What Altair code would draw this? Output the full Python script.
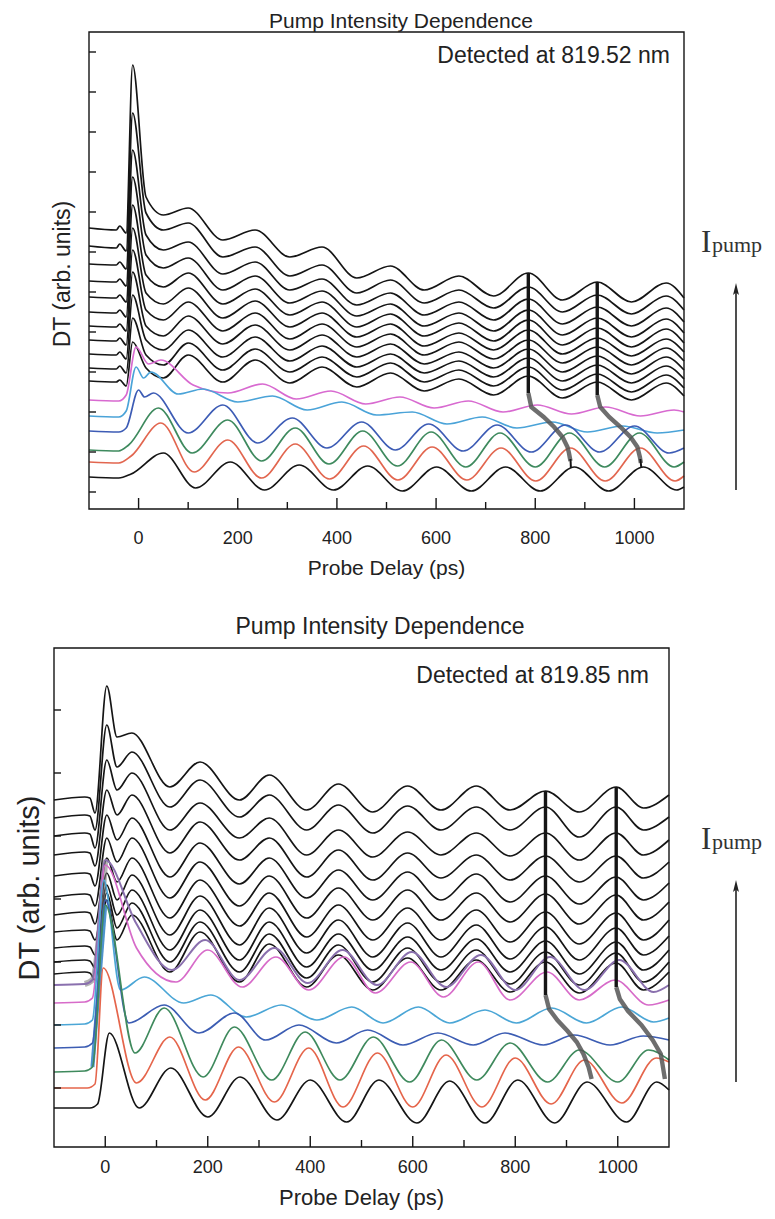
import altair as alt
import pandas as pd

# ---------------- data: top panel (Detected at 819.52 nm) ----------------
TOP_BLACK_X = [-100, -45, -38, -25, -12, 15, 50, 100, 170, 235, 305, 370, 440, 508,
               576, 646, 716, 786, 855, 925, 994, 1064, 1100]
TOP_BLACK = [
    [281, 279, 283, 276, 444, 312, 294, 301, 269, 279, 252, 262, 231, 243, 219, 233, 213, 236, 209, 227, 207, 226, 211],
    [263, 261, 265, 258, 396, 296, 279, 286, 252, 262, 233, 244, 216, 229, 206, 219, 201, 222, 197, 214, 195, 213, 199],
    [245, 244, 247, 240, 359, 274, 259, 267, 235, 247, 219, 230, 204, 216, 194, 207, 189, 210, 185, 202, 183, 201, 187],
    [228, 227, 230, 223, 332, 254, 241, 251, 219, 233, 206, 218, 193, 205, 183, 196, 178, 199, 174, 191, 172, 190, 176],
    [212, 211, 214, 207, 304, 234, 222, 236, 205, 220, 194, 207, 182, 195, 173, 186, 168, 189, 164, 181, 162, 180, 166],
    [197, 196, 199, 192, 281, 216, 205, 221, 191, 208, 182, 196, 172, 185, 163, 176, 159, 179, 155, 171, 153, 170, 157],
    [183, 182, 185, 178, 259, 199, 189, 207, 178, 196, 170, 185, 162, 175, 154, 167, 150, 169, 146, 162, 144, 161, 148],
    [169, 168, 171, 164, 237, 183, 173, 193, 165, 184, 159, 174, 152, 165, 145, 157, 141, 160, 137, 153, 135, 152, 139],
    [155, 154, 157, 150, 214, 169, 159, 179, 152, 172, 148, 163, 142, 155, 136, 148, 132, 151, 128, 144, 126, 143, 130],
    [141, 140, 143, 136, 191, 154, 144, 166, 139, 160, 137, 152, 132, 146, 127, 139, 123, 142, 119, 135, 117, 134, 121],
    [128, 127, 129, 123, 167, 141, 131, 154, 127, 149, 126, 142, 122, 136, 118, 130, 114, 133, 111, 127, 109, 126, 113],
]
TOP_PINK_X = [-100, -40, -25, -5, 20, 45, 110, 180, 250, 318, 388, 458, 527, 596, 665, 735, 804, 873, 942, 1012, 1080, 1100]
TOP_PINK_Y = [109, 108, 114, 162, 145, 149, 124, 116, 125, 110, 118, 105, 112, 101, 108, 97, 104, 95, 102, 93, 99, 97]
TOP_LBLUE_X = [-100, -40, -25, -5, 10, 25, 80, 130, 200, 270, 340, 410, 480, 552, 622, 693, 763, 834, 905, 976, 1046, 1100]
TOP_LBLUE_Y = [93, 92, 98, 142, 131, 137, 115, 120, 107, 113, 99, 107, 94, 97, 85, 92, 81, 87, 77, 83, 76, 79]
TOP_BLUE_X = [-100, -40, -25, 0, 12, 30, 100, 170, 240, 310, 380, 450, 518, 585, 655, 723, 792, 861, 930, 1000, 1070, 1100]
TOP_BLUE_Y = [78, 77, 81, 119, 112, 116, 76, 104, 66, 91, 61, 87, 59, 85, 58, 84, 57, 84, 57, 83, 56, 61]
TOP_GREEN_X = [-100, -40, -20, 40, 108, 180, 248, 316, 384, 452, 522, 590, 660, 729, 800, 869, 940, 1010, 1080, 1100]
TOP_GREEN_Y = [59, 58, 64, 101, 56, 89, 48, 81, 45, 78, 43, 77, 42, 76, 42, 76, 42, 76, 42, 47]
TOP_RED_X = [-100, -40, -15, 45, 112, 180, 248, 316, 385, 454, 523, 592, 662, 731, 801, 871, 941, 1012, 1082, 1100]
TOP_RED_Y = [47, 46, 53, 86, 37, 69, 31, 65, 30, 63, 29, 62, 29, 61, 28, 61, 28, 61, 28, 33]
TOP_LOW_X = [-100, -40, -15, 50, 115, 185, 254, 324, 393, 462, 532, 601, 671, 740, 810, 879, 948, 1018, 1085, 1100]
TOP_LOW_Y = [32, 31, 35, 56, 21, 47, 19, 44, 19, 43, 18, 42, 18, 42, 18, 42, 18, 42, 19, 22]
# phase-tracking guide lines (x, y)
TOP_ECHO1_V = [(786, 236), (786, 116)]
TOP_ECHO1_C = [(786, 116), (792, 102), (817, 92), (838, 82), (855, 72), (865, 62), (868, 56), (871, 48)]
TOP_ECHO1_T = [(871, 50), (872, 41)]
TOP_ECHO2_V = [(925, 227), (925, 114)]
TOP_ECHO2_C = [(925, 114), (931, 102), (949, 92), (972, 82), (992, 72), (1006, 62), (1011, 52), (1013, 46)]
TOP_ECHO2_T = [(1012, 50), (1014, 41)]
TOP_YTICKS = [457, 417, 377, 337, 297, 257, 217, 177, 137, 97, 57, 17]

# ---------------- data: bottom panel (Detected at 819.85 nm) ----------------
BOT_BLACK_X = [-100, -40, -30, -20, 3, 23, 52, 126, 185, 262, 320, 393, 455, 522,
               590, 655, 724, 790, 859, 925, 997, 1050, 1100]
BOT_BLACK = [
    [347, 350, 349, 334, 461, 410, 414, 360, 385, 347, 372, 337, 363, 335, 361, 337, 361, 337, 356, 335, 360, 339, 352],
    [329, 332, 331, 317, 422, 380, 395, 340, 367, 330, 352, 317, 342, 314, 341, 317, 340, 317, 340, 310, 340, 317, 330],
    [311, 314, 313, 299, 387, 357, 374, 317, 344, 309, 329, 292, 317, 290, 315, 292, 314, 291, 314, 287, 314, 292, 307],
    [292, 295, 294, 281, 357, 332, 352, 294, 325, 287, 309, 270, 297, 267, 294, 269, 292, 267, 291, 265, 291, 269, 285],
    [271, 274, 273, 261, 332, 307, 329, 270, 304, 263, 289, 249, 277, 247, 275, 247, 273, 245, 271, 243, 270, 247, 264],
    [250, 253, 252, 241, 309, 285, 309, 249, 285, 241, 271, 229, 259, 227, 257, 227, 254, 225, 253, 223, 252, 227, 245],
    [232, 235, 234, 223, 289, 265, 289, 229, 267, 221, 254, 210, 242, 207, 239, 207, 237, 205, 235, 203, 234, 207, 227],
    [215, 217, 216, 207, 274, 247, 272, 212, 251, 202, 239, 194, 227, 190, 224, 190, 222, 188, 220, 187, 219, 192, 211],
    [199, 201, 200, 192, 262, 232, 257, 197, 237, 187, 225, 180, 213, 177, 210, 177, 208, 175, 206, 173, 205, 177, 197],
    [185, 187, 186, 179, 254, 219, 244, 185, 225, 175, 213, 169, 202, 165, 199, 165, 197, 163, 195, 162, 194, 165, 185],
    [173, 175, 174, 167, 247, 207, 232, 175, 215, 165, 203, 160, 192, 157, 189, 157, 187, 155, 185, 154, 184, 157, 175],
]
BOT_VIOLET_X = [-100, -40, -25, 0, 60, 130, 195, 262, 330, 395, 463, 530, 598, 665, 733, 800, 868, 935, 1003, 1070, 1100]
BOT_VIOLET_Y = [162, 163, 167, 287, 224, 177, 207, 167, 199, 164, 197, 162, 195, 160, 192, 157, 190, 157, 187, 155, 162]
BOT_PINK_X = [-100, -40, -25, 0, 61, 138, 200, 267, 333, 397, 466, 527, 596, 660, 728, 790, 862, 925, 995, 1060, 1100]
BOT_PINK_Y = [144, 145, 149, 282, 199, 165, 197, 160, 190, 157, 190, 154, 185, 150, 185, 147, 175, 147, 167, 142, 147]
BOT_LBLUE_X = [-100, -40, -25, -3, 30, 76, 153, 206, 275, 344, 413, 481, 542, 611, 672, 741, 802, 871, 939, 1008, 1070, 1100]
BOT_LBLUE_Y = [122, 123, 127, 267, 157, 170, 144, 152, 130, 142, 127, 140, 124, 140, 124, 137, 124, 139, 124, 140, 125, 129]
BOT_BLUE_X = [-100, -40, -25, 0, 46, 115, 183, 252, 313, 378, 451, 512, 581, 649, 718, 780, 855, 915, 985, 1050, 1100]
BOT_BLUE_Y = [99, 100, 104, 247, 124, 142, 114, 134, 107, 122, 104, 117, 102, 114, 102, 114, 102, 112, 102, 111, 107]
BOT_GREEN_X = [-100, -40, -25, 0, 58, 115, 191, 252, 325, 390, 458, 523, 594, 656, 725, 790, 863, 925, 1000, 1060, 1100]
BOT_GREEN_Y = [75, 76, 80, 242, 94, 139, 70, 120, 67, 115, 67, 110, 65, 107, 67, 104, 65, 97, 65, 97, 87]
BOT_RED_X = [-100, -35, -20, -4, 61, 126, 195, 260, 330, 397, 464, 531, 600, 665, 735, 800, 870, 935, 1008, 1075, 1100]
BOT_RED_Y = [59, 59, 63, 179, 64, 110, 47, 100, 45, 99, 40, 94, 40, 92, 40, 89, 43, 87, 44, 89, 85]
BOT_LOW_X = [-100, -30, -15, 8, 66, 128, 200, 263, 335, 400, 471, 534, 608, 672, 741, 805, 877, 940, 1017, 1076, 1100]
BOT_LOW_Y = [39, 39, 43, 114, 39, 79, 30, 70, 27, 67, 25, 67, 24, 66, 24, 67, 24, 65, 25, 65, 57]
BOT_ECHO1_V = [(859, 356), (859, 152)]
BOT_ECHO1_C = [(859, 152), (866, 138), (882, 127), (902, 116), (920, 105), (933, 93), (943, 80), (949, 68)]
BOT_ECHO2_V = [(997, 360), (997, 160)]
BOT_ECHO2_C = [(997, 160), (1004, 148), (1020, 136), (1046, 122), (1068, 107), (1084, 93), (1092, 68)]
BOT_YTICKS = [437, 374, 311, 248, 185, 122, 59]

XTICK_MAJOR = [0, 200, 400, 600, 800, 1000]
XTICK_LABELS = ["0", "200", "400", "600", "800", "1000"]
XTICK_MINOR = [100, 300, 500, 700, 900]

TITLE = "Pump Intensity Dependence"
TOP_NOTE = "Detected at 819.52 nm"
BOT_NOTE = "Detected at 819.85 nm"
XTITLE = "Probe Delay (ps)"
YTITLE = "DT (arb. units)"

FONT = "Liberation Sans"
BLACK = "#151515"


def trace_rows(name, xs, ys, color, width, opacity=1.0):
    return [dict(series=name, idx=i, x=x, y=y, color=color, sw=width, op=opacity)
            for i, (x, y) in enumerate(zip(xs, ys))]


def pair_rows(name, pts, color, width, opacity=1.0):
    return [dict(series=name, idx=i, x=p[0], y=p[1], color=color, sw=width, op=opacity)
            for i, p in enumerate(pts)]


def panel(black_x, blacks, colored, overlays, echo_v, echo_c, echo_t, yticks, frame, ydom,
          note, note_xy, title_xy, xlab_y, xtitle_y, ytitle_xy, ytitle_size,
          title_size, note_size, lab_size, xtitle_size):
    x0, x1, y0, y1 = frame
    xs = alt.Scale(domain=[-100, 1100], range=[x0, x1], nice=False, zero=False)
    ys = alt.Scale(domain=ydom, range=[y1, y0], nice=False, zero=False)

    rows = []
    for k, ys_ in enumerate(blacks):
        rows += trace_rows(f"b{k}", black_x, ys_, BLACK, 1.7)
    black_df = pd.DataFrame(rows)
    rows = []
    for name, xs_, ys_, col, w, op in overlays:
        rows += trace_rows(name, xs_, ys_, col, w, op)
    for name, xs_, ys_, col, w in colored:
        rows += trace_rows(name, xs_, ys_, col, w)
    col_df = pd.DataFrame(rows)
    rows = []
    for k, pts in enumerate(echo_c):
        rows += pair_rows(f"c{k}", pts, "#555555", 4.4, 0.85)
    for k, pts in enumerate(echo_v):
        rows += pair_rows(f"v{k}", pts, BLACK, 3.4)
    for k, pts in enumerate(echo_t):
        rows += pair_rows(f"t{k}", pts, BLACK, 2.0)
    echo_df = pd.DataFrame(rows)

    def lines(df, interp):
        return alt.Chart(df).mark_line(interpolate=interp).encode(
            x=alt.X("x:Q", scale=xs, axis=None),
            y=alt.Y("y:Q", scale=ys, axis=None),
            detail="series:N",
            order="idx:Q",
            color=alt.Color("color:N", scale=None),
            strokeWidth=alt.StrokeWidth("sw:Q", scale=None),
            opacity=alt.Opacity("op:Q", scale=None),
        )

    one = pd.DataFrame({"a": [0]})
    frame_mark = alt.Chart(one).mark_rect(fillOpacity=0, stroke=BLACK, strokeWidth=1.4).encode(
        x=alt.value(x0), x2=alt.value(x1), y=alt.value(y0), y2=alt.value(y1))
    ytick = alt.Chart(pd.DataFrame({"t": yticks})).mark_rule(color=BLACK, strokeWidth=1.4).encode(
        y=alt.Y("t:Q", scale=ys, axis=None), x=alt.value(x0), x2=alt.value(x0 + 7))
    xmaj = alt.Chart(pd.DataFrame({"t": XTICK_MAJOR})).mark_rule(color=BLACK, strokeWidth=1.4).encode(
        x=alt.X("t:Q", scale=xs, axis=None), y=alt.value(y1), y2=alt.value(y1 - 11))
    xmin = alt.Chart(pd.DataFrame({"t": XTICK_MINOR})).mark_rule(color=BLACK, strokeWidth=1.4).encode(
        x=alt.X("t:Q", scale=xs, axis=None), y=alt.value(y1), y2=alt.value(y1 - 7))
    xlab = alt.Chart(pd.DataFrame({"t": XTICK_MAJOR, "lab": XTICK_LABELS})).mark_text(
        font=FONT, fontSize=lab_size, color="#222", baseline="alphabetic").encode(
        x=alt.X("t:Q", scale=xs, axis=None), y=alt.value(xlab_y), text="lab:N")

    def label(txt, x, y, size, align="center", angle=0):
        kw = dict(font=FONT, fontSize=size, color="#222", align=align, baseline="alphabetic")
        if angle:
            kw["angle"] = angle
            kw["baseline"] = "middle"
        return alt.Chart(one).mark_text(text=txt, **kw).encode(x=alt.value(x), y=alt.value(y))

    layers = [
        lines(black_df, "monotone"),
        lines(col_df, "monotone"),
        lines(echo_df, "linear"),
        frame_mark, ytick, xmaj, xmin, xlab,
        label(TITLE, title_xy[0], title_xy[1], title_size),
        label(note, note_xy[0], note_xy[1], note_size, align="right"),
        label(XTITLE, (x0 + x1) / 2, xtitle_y, xtitle_size),
        label(YTITLE, ytitle_xy[0], ytitle_xy[1], ytitle_size, angle=270),
    ]
    return alt.layer(*layers)


top = panel(
    TOP_BLACK_X, TOP_BLACK,
    [("pink", TOP_PINK_X, TOP_PINK_Y, "#d86ad0", 1.7),
     ("lblue", TOP_LBLUE_X, TOP_LBLUE_Y, "#4aa3d8", 1.7),
     ("blue", TOP_BLUE_X, TOP_BLUE_Y, "#3d5cb5", 1.7),
     ("green", TOP_GREEN_X, TOP_GREEN_Y, "#3e8a5e", 1.7),
     ("red", TOP_RED_X, TOP_RED_Y, "#e2664f", 1.7),
     ("low", TOP_LOW_X, TOP_LOW_Y, BLACK, 1.7)],
    [],
    [TOP_ECHO1_V, TOP_ECHO2_V], [TOP_ECHO1_C, TOP_ECHO2_C], [TOP_ECHO1_T, TOP_ECHO2_T], TOP_YTICKS,
    frame=(81, 676, 24, 501), ydom=[0, 477],
    note=TOP_NOTE, note_xy=(662, 55), title_xy=(393, 20), xlab_y=536, xtitle_y=567,
    ytitle_xy=(55, 266), ytitle_size=23, title_size=21, note_size=23, lab_size=18, xtitle_size=21,
)

bottom = panel(
    BOT_BLACK_X, BOT_BLACK,
    [("violet", BOT_VIOLET_X, BOT_VIOLET_Y, "#8a70ae", 2.0),
     ("pink", BOT_PINK_X, BOT_PINK_Y, "#d76bc9", 1.7),
     ("lblue", BOT_LBLUE_X, BOT_LBLUE_Y, "#4ba6d6", 1.7),
     ("blue", BOT_BLUE_X, BOT_BLUE_Y, "#3c5db3", 1.7),
     ("green", BOT_GREEN_X, BOT_GREEN_Y, "#3f8a5d", 1.7),
     ("red", BOT_RED_X, BOT_RED_Y, "#e5654b", 1.7),
     ("low", BOT_LOW_X, BOT_LOW_Y, BLACK, 1.7)],
    # thick strokes over the rising edge of the coherent spike
    [("greyband", BOT_VIOLET_X[1:4], BOT_VIOLET_Y[1:4], "#777777", 6.0, 0.55),
     ("bluethick", BOT_GREEN_X[2:4], BOT_GREEN_Y[2:4], "#3a86c8", 4.0, 0.9)],
    [BOT_ECHO1_V, BOT_ECHO2_V], [BOT_ECHO1_C, BOT_ECHO2_C], [], BOT_YTICKS,
    frame=(46, 661, 640, 1139), ydom=[0, 499],
    note=BOT_NOTE, note_xy=(641, 675), title_xy=(372, 626), xlab_y=1165, xtitle_y=1197,
    ytitle_xy=(22, 880), ytitle_size=29, title_size=23, note_size=23, lab_size=18, xtitle_size=22,
)

# I_pump annotations with arrows
one = pd.DataFrame({"a": [0]})


def ipump(base_y, arrow_top, arrow_bottom):
    big = alt.Chart(one).mark_text(text="I", font="Liberation Serif", fontSize=31, align="left",
                                   baseline="alphabetic", color="#333").encode(
        x=alt.value(693), y=alt.value(base_y))
    small = alt.Chart(one).mark_text(text="pump", font="Liberation Serif", fontSize=22, align="left",
                                     baseline="alphabetic", color="#333").encode(
        x=alt.value(704), y=alt.value(base_y))
    shaft = alt.Chart(one).mark_rule(color="#222", strokeWidth=1.6).encode(
        x=alt.value(728), y=alt.value(arrow_bottom), y2=alt.value(arrow_top + 8))
    head = alt.Chart(one).mark_point(shape="M0,-1L-0.5,1L0,0.6L0.5,1Z", filled=True, size=140,
                                     color="#222", opacity=1).encode(
        x=alt.value(728), y=alt.value(arrow_top + 6))
    return [big, small, shaft, head]


extras = alt.layer(*(ipump(244, 275, 482) + ipump(841, 872, 1074)))

chart = alt.layer(top, bottom, extras).resolve_scale(
    x="independent", y="independent"
).properties(
    width=759, height=1211, autosize=alt.AutoSizeParams(type="none"), padding=0
).configure_view(stroke=None)

chart.save("out.html", embed_options={"renderer": "svg", "actions": False})
